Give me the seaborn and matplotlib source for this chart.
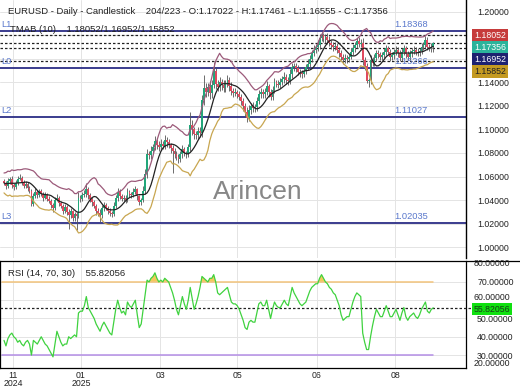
import numpy as np
import pandas as pd
import seaborn as sns
import matplotlib.pyplot as plt
from matplotlib.lines import Line2D

# daily closes (one per candle)
close = [
    1.0545, 1.0520, 1.0560, 1.0575, 1.0530, 1.0510, 1.0545, 1.0580, 1.0590, 1.0555,
    1.0520, 1.0535, 1.0500, 1.0480, 1.0370, 1.0430, 1.0470, 1.0440, 1.0475, 1.0455,
    1.0420, 1.0445, 1.0410, 1.0390, 1.0360, 1.0330, 1.0400, 1.0420, 1.0375, 1.0350,
    1.0310, 1.0340, 1.0300, 1.0270, 1.0305, 1.0250, 1.0280, 1.0265, 1.0420, 1.0410,
    1.0440, 1.0450, 1.0490, 1.0440, 1.0410, 1.0380, 1.0350, 1.0310, 1.0290, 1.0270,
    1.0330, 1.0360, 1.0330, 1.0310, 1.0290, 1.0280, 1.0350, 1.0420, 1.0470, 1.0430,
    1.0410, 1.0420, 1.0400, 1.0470, 1.0450, 1.0440, 1.0470, 1.0490, 1.0430, 1.0380,
    1.0400, 1.0480, 1.0620, 1.0790, 1.0780, 1.0820, 1.0850, 1.0900, 1.0870, 1.0850,
    1.0880, 1.0860, 1.0910, 1.0890, 1.0870, 1.0840, 1.0820, 1.0790, 1.0770, 1.0750,
    1.0790, 1.0830, 1.0800, 1.0790, 1.0850, 1.1040, 1.1000, 1.0960, 1.0950, 1.0990,
    1.0970, 1.1250, 1.1350, 1.1320, 1.1360, 1.1310, 1.1380, 1.1500, 1.1390, 1.1360,
    1.1400, 1.1380, 1.1350, 1.1390, 1.1420, 1.1370, 1.1330, 1.1310, 1.1320, 1.1300,
    1.1280, 1.1240, 1.1200, 1.1150, 1.1100, 1.1170, 1.1200, 1.1180, 1.1190, 1.1240,
    1.1300, 1.1320, 1.1300, 1.1320, 1.1370, 1.1320, 1.1280, 1.1340, 1.1400, 1.1390,
    1.1380, 1.1400, 1.1430, 1.1450, 1.1420, 1.1410, 1.1470, 1.1530, 1.1540, 1.1520,
    1.1490, 1.1480, 1.1470, 1.1500, 1.1530, 1.1560, 1.1600, 1.1650, 1.1680, 1.1700,
    1.1720, 1.1780, 1.1800, 1.1770, 1.1790, 1.1760, 1.1740, 1.1720, 1.1700, 1.1710,
    1.1680, 1.1650, 1.1620, 1.1590, 1.1610, 1.1600, 1.1620, 1.1660, 1.1690, 1.1720,
    1.1750, 1.1730, 1.1740, 1.1590, 1.1540, 1.1410, 1.1420, 1.1590, 1.1570, 1.1610,
    1.1650, 1.1640, 1.1620, 1.1630, 1.1660, 1.1690, 1.1660, 1.1620, 1.1630, 1.1660,
    1.1680, 1.1650, 1.1610, 1.1660, 1.1690, 1.1640, 1.1620, 1.1650, 1.1670, 1.1680,
    1.1660, 1.1650, 1.1670, 1.1700, 1.1720, 1.1765, 1.1705, 1.1690, 1.17022, 1.17356,
]
first_open = 1.0560

# wick lengths above / below the body, in pips
up_wick = [
    20, 15, 25, 18, 30, 12, 22, 28, 35, 16,
    18, 24, 14, 20, 12, 26, 30, 15, 22, 19,
    17, 25, 13, 21, 16, 18, 28, 35, 14, 20,
    15, 22, 18, 25, 30, 14, 20, 16, 45, 22,
    28, 35, 55, 18, 20, 15, 24, 12, 19, 30,
    26, 20, 15, 22, 18, 14, 30, 25, 32, 20,
    18, 26, 22, 35, 16, 20, 28, 30, 15, 12,
    20, 35, 40, 45, 30, 38, 25, 42, 20, 28,
    35, 22, 40, 26, 30, 18, 25, 20, 28, 22,
    30, 35, 20, 18, 28, 105, 40, 25, 30, 35,
    28, 40, 110, 45, 35, 50, 40, 72, 20, 35,
    45, 30, 38, 28, 40, 25, 30, 22, 35, 20,
    25, 18, 30, 22, 40, 35, 28, 30, 25, 38,
    40, 30, 22, 35, 42, 20, 28, 32, 40, 25,
    30, 35, 28, 40, 22, 26, 45, 38, 30, 25,
    28, 22, 30, 35, 25, 40, 38, 30, 35, 28,
    40, 35, 30, 20, 25, 30, 38, 22, 28, 35,
    30, 25, 28, 22, 35, 20, 26, 30, 38, 25,
    30, 40, 28, 35, 25, 30, 22, 40, 28, 35,
    30, 25, 22, 28, 35, 30, 20, 26, 32, 25,
    30, 22, 28, 35, 25, 20, 30, 26, 22, 28,
    25, 30, 22, 35, 28, 30, 25, 25, 30, 10.5,
]
down_wick = [
    18, 25, 15, 20, 28, 22, 16, 20, 14, 25,
    20, 15, 22, 18, 20, 25, 15, 22, 18, 20,
    26, 15, 20, 18, 25, 30, 15, 12, 22, 20,
    25, 18, 30, 115, 20, 28, 25, 120, 15, 25,
    20, 18, 22, 28, 25, 30, 22, 35, 25, 57,
    20, 25, 18, 30, 22, 28, 15, 20, 25, 18,
    22, 20, 28, 15, 25, 20, 18, 22, 30, 25,
    20, 15, 25, 30, 35, 28, 30, 25, 35, 30,
    25, 30, 28, 35, 30, 40, 190, 30, 28, 35,
    25, 30, 28, 35, 20, 30, 45, 40, 35, 30,
    35, 30, 40, 45, 35, 50, 40, 30, 45, 35,
    30, 40, 35, 28, 30, 40, 35, 30, 28, 35,
    30, 35, 40, 45, 35, 30, 38, 28, 35, 30,
    25, 30, 35, 28, 30, 40, 30, 25, 32, 28,
    30, 28, 25, 35, 30, 28, 22, 30, 35, 28,
    30, 35, 28, 25, 30, 22, 30, 28, 25, 30,
    28, 35, 30, 25, 38, 30, 28, 35, 30, 25,
    30, 35, 28, 30, 25, 30, 28, 22, 30, 28,
    25, 30, 28, 40, 35, 18, 45, 35, 30, 28,
    25, 30, 28, 32, 25, 28, 30, 35, 25, 28,
    30, 35, 25, 28, 30, 35, 28, 25, 30, 28,
    30, 25, 28, 30, 25, 28, 30, 25, 28, 46.7,
]

# RSI(14)
rsi = [
    38, 35, 39, 41, 42, 40, 39, 37, 38, 36,
    35, 37, 38, 36, 30, 38, 37, 36, 38, 40,
    38, 36, 35, 33, 31, 29, 36, 43, 40, 37,
    35, 36, 36, 40, 39, 40, 41, 40, 53, 54,
    54, 57, 62, 56, 54, 52, 50, 47, 45, 43,
    46, 48, 46, 44, 42, 41, 48, 55, 60, 56,
    53, 54, 52, 59, 57, 56, 58, 60, 52, 45,
    47, 55, 63, 71, 70, 72, 73, 75, 72, 70,
    71, 70, 72, 71, 70, 67, 64, 60, 55, 52,
    57, 62, 58, 55, 60, 67, 61, 55, 58, 62,
    67, 73, 72, 71, 70, 72, 72, 74, 70, 64,
    63, 64, 65, 66, 67, 63, 59, 58, 58, 57,
    55, 52, 49, 45, 44, 48, 49, 48, 48, 53,
    58, 59, 57, 57, 60, 55, 50, 55, 59, 57,
    56, 56, 58, 60, 58, 57, 62, 67, 64, 62,
    60, 58, 57, 58, 59, 62, 65, 67, 68, 69,
    69, 72, 74, 72, 70, 69, 67, 66, 64, 63,
    60, 57, 52, 49, 50, 51, 51, 55, 59, 62,
    64, 63, 62, 42, 37, 33, 33, 40, 46, 51,
    55, 53, 51, 51, 54, 57, 54, 51, 51, 53,
    55, 52, 49, 53, 56, 51, 49, 51, 52, 53,
    51, 50, 52, 55, 57, 59, 54, 53, 55, 55.82056,
]

level_names = ['L1', 'L0', 'L2', 'L3']
level_values = [1.18368, 1.15266, 1.11027, 1.02035]
tmab_last = [1.18052, 1.16952, 1.15852]
last_close = 1.17356
rsi_last = 55.82056
x_labels = ['11\n2024', '01\n2025', '03', '05', '06', '08']
x_label_pos = [4.6, 39.3, 79.6, 118.9, 159.7, 199.5]

# build OHLC frame
df = pd.DataFrame({'close': close, 'up': up_wick, 'dn': down_wick})
df['open'] = df['close'].shift(1).fillna(first_open)
df['high'] = df[['open', 'close']].max(axis=1) + df['up'] / 10000
df['low'] = df[['open', 'close']].min(axis=1) - df['dn'] / 10000
df['i'] = np.arange(len(df))

# TMAB(10): triangular MA with range based bands
df['mid'] = df['close'].rolling(6, min_periods=1).mean().rolling(5, min_periods=1).mean()
rng = (df['high'] - df['low']).rolling(10, min_periods=1).mean()
df['upper'] = df['mid'] + 1.6 * rng
df['lower'] = df['mid'] - 1.6 * rng
df['rsi'] = rsi

sns.set_style('white')
plt.rcParams['font.family'] = ['Liberation Sans', 'DejaVu Sans']

W, H = 520, 390
fs = 6.3
fig = plt.figure(figsize=(W / 100, H / 100), dpi=100)
ax = fig.add_axes([0, 1 - 258 / H, 466 / W, 258 / H])
ax2 = fig.add_axes([0, 1 - 368 / H, 466 / W, 107 / H])

xlim = (-2.04, 235.7)
grid_c = '#e4e4e4'
green, red = '#22a67a', '#e04a5f'

# candles
ax.vlines(df['i'], df['low'], df['high'], color='#555555', lw=0.6, zorder=3)
body = (df['close'] - df['open']).abs().clip(lower=0.0003)
bottom = df[['open', 'close']].min(axis=1)
isup = df['close'] >= df['open']
ax.bar(df['i'][isup], body[isup], bottom=bottom[isup], width=0.95, color=green, zorder=4, linewidth=0)
ax.bar(df['i'][~isup], body[~isup], bottom=bottom[~isup], width=0.95, color=red, zorder=4, linewidth=0)

# bands
sns.lineplot(x='i', y='upper', data=df, ax=ax, color='#9c5a7a', lw=0.9, zorder=5)
sns.lineplot(x='i', y='lower', data=df, ax=ax, color='#c8a650', lw=0.9, zorder=5)
sns.lineplot(x='i', y='mid', data=df, ax=ax, color='#222222', lw=0.9, zorder=5)

# horizontal levels
for name, v in zip(level_names, level_values):
    ax.axhline(v, color='#2b2d86', lw=1.3, zorder=2)
    ax.annotate(f'{v:.5f}', (216.3, v), xytext=(0, 1.5), textcoords='offset points',
                ha='right', va='bottom', fontsize=fs + 0.4, color='#5a78cc', zorder=6)
    ax.annotate(name, (-1.5, v), xytext=(0, 1.5), textcoords='offset points',
                ha='left', va='bottom', fontsize=fs + 0.4, color='#5a78cc', zorder=6)
for v in tmab_last + [last_close]:
    ax.axhline(v, color='#222222', lw=0.9, ls=(0, (2, 1.6)), zorder=2)

ax.set_xlim(*xlim)
ax.set_ylim(0.99064, 1.21021)
ax.set_yticks([1.00, 1.02, 1.04, 1.06, 1.08, 1.10, 1.12, 1.14, 1.16, 1.18, 1.20])
ax.set_yticklabels(['1.00000', '1.02000', '1.04000', '1.06000', '1.08000', '1.10000',
                    '1.12000', '1.14000', '', '', '1.20000'])
ax.yaxis.tick_right()
ax.set_xticks(x_label_pos)
ax.set_xticklabels([])
ax.tick_params(axis='both', length=0, labelsize=fs, labelcolor='#222222', pad=8)
ax.grid(True, color=grid_c, lw=0.7)
ax.set_xlabel('')
ax.set_ylabel('')
for s in ['top', 'left', 'bottom']:
    ax.spines[s].set_visible(False)
ax.spines['right'].set_color('black')
ax.spines['right'].set_linewidth(1)

# right side value boxes
boxes = [('1.18052', '#c63b3b', 'white', 35.5), ('1.17356', '#2bb39b', 'white', 47.5),
         ('1.16952', '#1d2170', 'white', 59.5), ('1.15852', '#c49a22', '#222222', 71.5)]
for txt, fc, tc, yc in boxes:
    fig.text(474 / W, 1 - yc / H, txt, fontsize=fs, color=tc, ha='left', va='center',
             bbox=dict(boxstyle='square,pad=0.2', fc=fc, ec='none'))

# texts
fig.text(8 / W, 1 - 12 / H,
         'EURUSD - Daily - Candlestick    204/223 - O:1.17022 - H:1.17461 - L:1.16555 - C:1.17356',
         fontsize=6.8, color='#222222', va='center')
fig.text(10 / W, 1 - 30 / H, 'TMAB (10)    1.18052/1.16952/1.15852',
         fontsize=6.8, color='#222222', va='center')
fig.text(258 / W, 1 - 192 / H, 'Arincen', fontsize=19, color='#7a7a7a',
         ha='center', va='center', alpha=0.9)

# RSI panel
ax2.set_xlim(*xlim)
ax2.set_ylim(22.9, 81.46)
ax2.plot([-1, 219], [70, 70], color='#f2c47c', lw=1.1)
ax2.plot([-1, 219], [30, 30], color='#b48ee6', lw=1.1)
ax2.fill_between(df['i'], 70, df['rsi'], where=df['rsi'] > 70, interpolate=True,
                 color='#f2c040', alpha=0.85, lw=0)
sns.lineplot(x='i', y='rsi', data=df, ax=ax2, color='#3fd23f', lw=0.9, zorder=4)
ax2.axhline(rsi_last, xmax=513 / 466, color='#222222', lw=0.9, ls=(0, (2, 1.6)),
            clip_on=False, zorder=3)
ax2.set_yticks([30, 40, 50, 60, 70])
ax2.set_yticklabels(['30.00000', '40.00000', '50.00000', '', '70.00000'])
ax2.yaxis.tick_right()
ax2.set_xticks(x_label_pos)
ax2.set_xticklabels(x_labels, linespacing=0.95)
ax2.tick_params(axis='both', length=0, labelsize=fs, labelcolor='#222222', pad=8)
ax2.tick_params(axis='x', pad=2)
ax2.grid(True, color=grid_c, lw=0.7)
ax2.set_xlabel('')
ax2.set_ylabel('')
for s in ax2.spines.values():
    s.set_color('black')
    s.set_linewidth(0.9)
ax2.spines['top'].set_visible(False)
fig.text(474 / W, 1 - 263 / H, '80.00000', fontsize=fs, color='#222222', va='center')
fig.text(474 / W, 1 - 297 / H, '60.00000', fontsize=fs, color='#222222', va='center')
fig.text(474 / W, 1 - 364 / H, '20.00000', fontsize=fs, color='#222222', va='center')
fig.text(474 / W, 1 - 309 / H, '55.82056', fontsize=fs, color='#1a3a1a', ha='left', va='center',
         bbox=dict(boxstyle='square,pad=0.2', fc='#10e010', ec='none'))
fig.text(8 / W, 1 - 273 / H, 'RSI (14, 70, 30)    55.82056', fontsize=6.8,
         color='#222222', va='center')

# separator between panels
fig.add_artist(Line2D([0, 1], [1 - 260.5 / H, 1 - 260.5 / H], transform=fig.transFigure,
                      color='black', lw=0.9))

fig.savefig('out.png', dpi=100, facecolor='white')
